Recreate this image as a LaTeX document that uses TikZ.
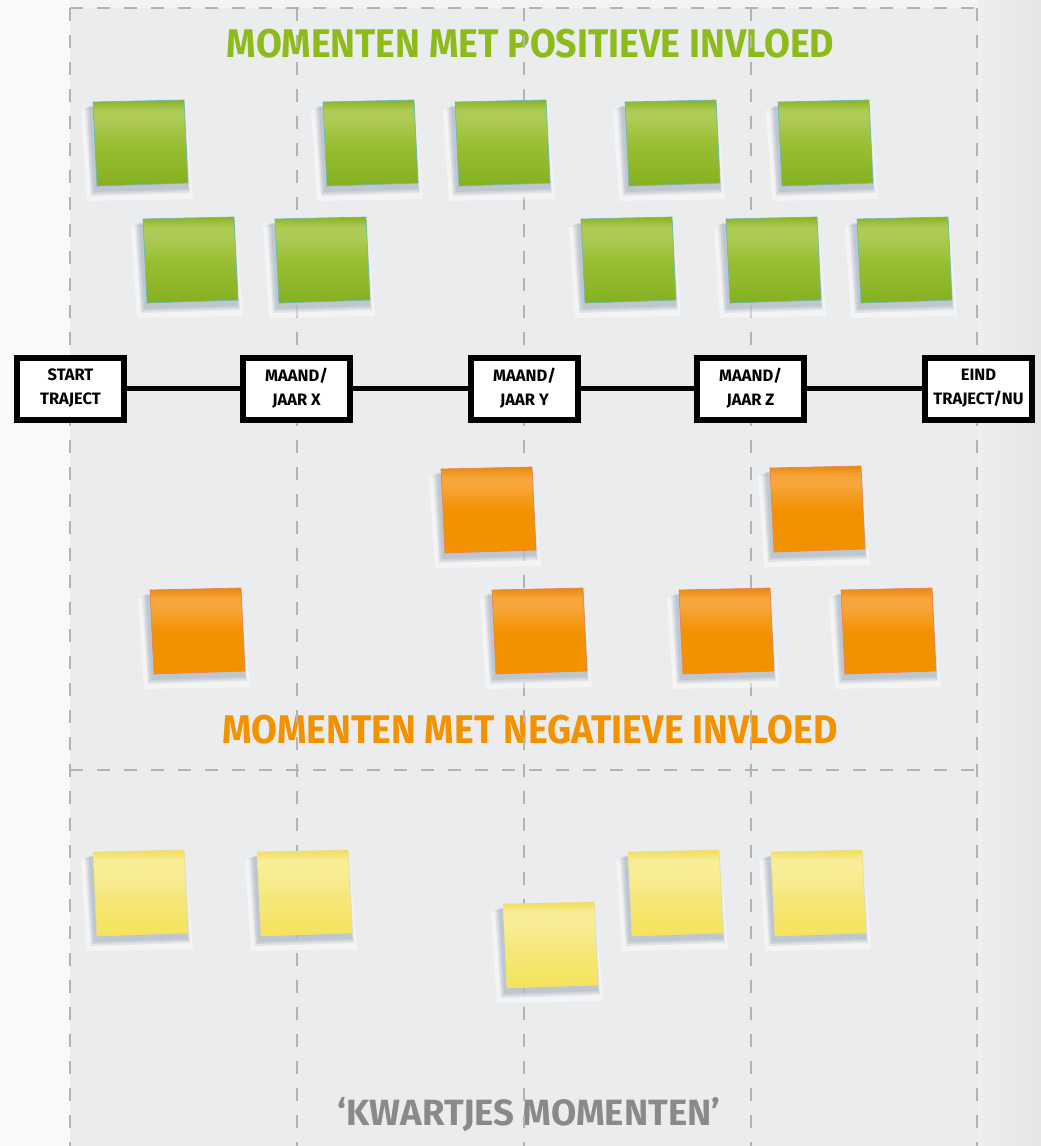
\documentclass[tikz,border=0pt]{standalone}
\usepackage{fontspec}
\setmainfont{Fira Sans}
\newfontfamily\titlefont[FakeStretch=0.937]{Fira Sans}
\usetikzlibrary{shadows}
\definecolor{panelbg}{HTML}{EBECED}
\definecolor{outerbg}{HTML}{F3F3F3}
\definecolor{leftbg}{HTML}{FAFAFA}
\definecolor{rightbgA}{HTML}{EEEEEE}
\definecolor{rightbgB}{HTML}{E6E6E7}
\definecolor{dashgray}{HTML}{B3B3B3}
\definecolor{titlegreen}{HTML}{8DBB1B}
\definecolor{titleorange}{HTML}{F39200}
\definecolor{titlegray}{HTML}{8A8A8A}
\definecolor{gA}{HTML}{86B021}
\definecolor{gB}{HTML}{97BE31}
\definecolor{gC}{HTML}{AECB55}
\definecolor{gD}{HTML}{88B322}
\definecolor{oA}{HTML}{F39200}
\definecolor{oB}{HTML}{F39200}
\definecolor{oC}{HTML}{F7A63C}
\definecolor{oD}{HTML}{E88A0A}
\definecolor{yA}{HTML}{F5E35A}
\definecolor{yB}{HTML}{F6E77C}
\definecolor{yC}{HTML}{F8EE98}
\definecolor{yD}{HTML}{F2DC58}
\definecolor{HaloB}{HTML}{9AA6B8}
\definecolor{HaloG}{HTML}{6CBAB0}
\definecolor{HaloO}{HTML}{EE8158}
\definecolor{HaloY}{HTML}{EEE08A}
\pgfdeclareverticalshading{greennote}{100bp}{color(0bp)=(gA); color(25bp)=(gA); color(48bp)=(gB); color(64bp)=(gC); color(69bp)=(gC); color(75bp)=(gD); color(100bp)=(gD)}
\pgfdeclareverticalshading{orangenote}{100bp}{color(0bp)=(oA); color(25bp)=(oA); color(50bp)=(oB); color(64bp)=(oC); color(69bp)=(oC); color(75bp)=(oD); color(100bp)=(oD)}
\pgfdeclareverticalshading{yellownote}{100bp}{color(0bp)=(yA); color(25bp)=(yA); color(48bp)=(yB); color(64bp)=(yC); color(69bp)=(yC); color(75bp)=(yD); color(100bp)=(yD)}
\newcommand\stickynote[3]{%
  \begin{scope}[shift={(#1,#2)}]
    \fill[white, opacity=0.45] (-12,10) -- (92,6) -- (100,99) -- (-6,101) -- cycle;
    \fill[HaloB, opacity=0.2] (-8,8) -- (92,4) -- (97,93) -- (-2,96) -- cycle;
    \fill[HaloB, opacity=0.25] (-6,7) -- (91,3) -- (96,91) -- (-1,94) -- cycle;
    \fill[HaloB, opacity=0.3] (-4,6) -- (91,2) -- (95,89) -- (1,92) -- cycle;
    \path[#3] (0,2) -- (91,0) -- (95,83) -- (4,86) -- cycle;
  \end{scope}}
\begin{document}
\begin{tikzpicture}[x=1pt,y=-1pt,
  gridline/.style={draw=dashgray, line width=2.6pt, dash pattern=on 13pt off 14pt},
  gnote/.style={shading=greennote, draw=HaloG, line width=0.7pt},
  onote/.style={shading=orangenote, draw=HaloO, line width=0.7pt},
  ynote/.style={shading=yellownote, draw=HaloY, line width=0.5pt},
  tlbox/.style={draw=black, line width=6pt, fill=white, minimum width=107pt,
    minimum height=62pt, inner sep=0pt, align=center,
    font=\fontsize{16.5}{24}\selectfont\bfseries,
    drop shadow={opacity=0.4, shadow xshift=1.5pt, shadow yshift=-2.5pt}},
  titletext/.style={anchor=base, inner sep=0pt}]
\useasboundingbox (0,0) rectangle (1041,1146);
% background
\fill[outerbg] (0,0) rectangle (1041,1146);
\fill[leftbg] (0,0) rectangle (70,1146);
\shade[left color=rightbgA, right color=rightbgB] (978,0) rectangle (1041,1146);
\fill[panelbg] (70,8) rectangle (978,1146);
% titles
\node[titletext, text=titlegreen, font=\titlefont\fontsize{40}{40}\selectfont\bfseries] (tpos) at (530.5,57) {MOMENTEN MET POSITIEVE INVLOED};
\node[titletext, text=titleorange, font=\titlefont\fontsize{40}{40}\selectfont\bfseries] (tneg) at (530,743) {MOMENTEN MET NEGATIEVE INVLOED};
\node[titletext, text=titlegray, font=\fontsize{36.5}{36}\selectfont\bfseries] (tkw) at (529,1125) {‘KWARTJES MOMENTEN’};
% grid
\draw[gridline] (70,8) -- (978,8);
\foreach \gx in {70,297,524,751,977}{\draw[gridline] (\gx,8) -- (\gx,1146);}
\draw[gridline] (70,770) -- (978,770);
% green notes
\stickynote{93}{100}{gnote}
\stickynote{323}{100}{gnote}
\stickynote{455}{100}{gnote}
\stickynote{625}{100}{gnote}
\stickynote{778}{100}{gnote}
\stickynote{143}{217}{gnote}
\stickynote{275}{217}{gnote}
\stickynote{581}{217}{gnote}
\stickynote{726}{217}{gnote}
\stickynote{857}{217}{gnote}
% orange notes
\stickynote{441}{467}{onote}
\stickynote{770}{466}{onote}
\stickynote{150}{588}{onote}
\stickynote{492}{588}{onote}
\stickynote{679}{588}{onote}
\stickynote{841}{588}{onote}
% yellow notes
\stickynote{93}{850}{ynote}
\stickynote{257}{850}{ynote}
\stickynote{503}{902}{ynote}
\stickynote{628}{850}{ynote}
\stickynote{771}{850}{ynote}
% timeline
\node[tlbox] (b1) at (70.5,388.5) {START\\TRAJECT};
\node[tlbox] (b2) at (296.5,388.5) {MAAND/\\JAAR X};
\node[tlbox] (b3) at (524.5,388.5) {MAAND/\\JAAR Y};
\node[tlbox] (b4) at (750.5,388.5) {MAAND/\\JAAR Z};
\node[tlbox] (b5) at (978.5,388.5) {EIND\\TRAJECT/NU};
\draw[line width=5pt] (b1) -- (b2);
\draw[line width=5pt] (b2) -- (b3);
\draw[line width=5pt] (b3) -- (b4);
\draw[line width=5pt] (b4) -- (b5);
\end{tikzpicture}
\end{document}
